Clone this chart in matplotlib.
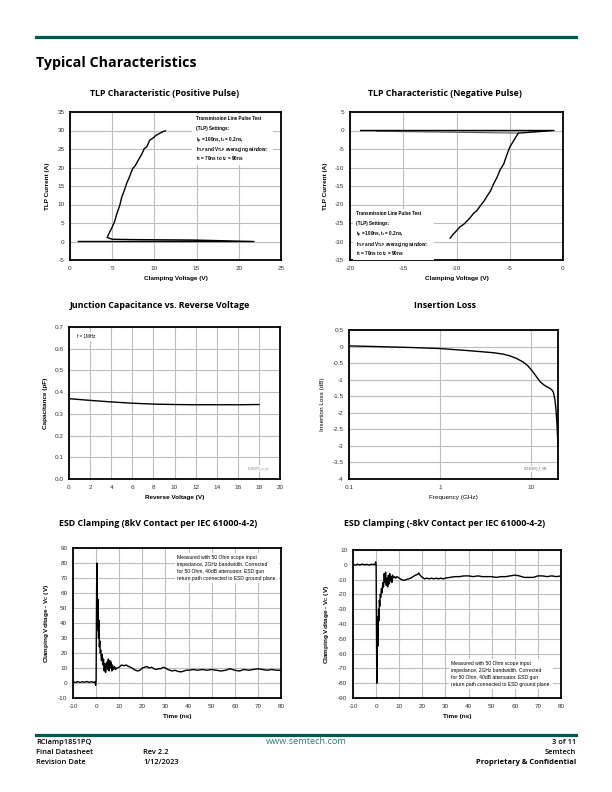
import matplotlib
matplotlib.use("Agg")
import matplotlib.pyplot as plt
from matplotlib.lines import Line2D
from matplotlib.patches import Rectangle

plt.rcParams['font.family'] = ['Liberation Sans', 'DejaVu Sans']
plt.rcParams['mathtext.default'] = 'regular'
plt.rcParams['axes.unicode_minus'] = False

TEAL = '#00594f'
GRID = '#bdbdbd'
HEAD_FONT = 'Open Sans'

# --- TLP positive pulse (clamping voltage V, current A)
tlp_pos_v = [1.0, 21.8, 14.5, 8.0, 5.0, 4.4, 4.7, 5.0, 5.3, 5.55, 5.9, 6.13, 6.4, 6.76, 7.0, 7.42, 7.7,
             8.0, 8.2, 8.5, 8.8, 9.1, 9.45, 9.8, 10.2, 10.6, 11.0, 11.3]
tlp_pos_i = [0.0, 0.0, 0.4, 0.5, 0.6, 1.1, 2.5, 3.9, 5.5, 7.5, 9.8, 12.0, 13.6, 16.0, 17.2, 19.7, 20.4,
             21.6, 22.4, 23.6, 25.1, 25.6, 27.4, 27.9, 28.7, 29.2, 29.7, 29.9]

# --- TLP negative pulse
tlp_neg_v = [-19.0, -0.85, -4.2, -4.6, -5.0, -5.3, -5.56, -5.9, -6.2, -6.5, -6.8, -7.1, -7.4, -7.8, -8.1,
             -8.4, -8.7, -9.0, -9.3, -9.7, -10.0, -10.3, -10.6]
tlp_neg_i = [0.0, 0.0, -0.7, -2.6, -4.5, -6.8, -9.0, -10.6, -12.7, -14.3, -16.3, -17.6, -19.0, -20.5, -21.7,
             -22.4, -23.5, -24.4, -25.3, -26.1, -27.1, -28.0, -29.1]
tlp_neg_snap_v = [-17.5, -4.2]
tlp_neg_snap_i = [-0.2, -0.7]

# --- Junction capacitance
cap_vr = [0, 2, 4, 6, 8, 10, 12, 14, 16, 18]
cap_pf = [0.370, 0.362, 0.355, 0.349, 0.345, 0.343, 0.342, 0.342, 0.342, 0.343]

# --- Insertion loss
il_freq = [0.1, 0.2, 0.5, 1.0, 2.0, 3.0, 4.0, 5.0, 5.9, 7.0, 8.3, 9.3, 10.3, 11.5, 12.7, 14.0, 15.0,
           16.0, 17.0, 17.8, 18.5, 19.0, 19.4, 19.7, 20.0]
il_db = [0.02, 0.0, -0.03, -0.06, -0.12, -0.16, -0.19, -0.23, -0.28, -0.36, -0.47, -0.58, -0.72, -0.90,
         -1.06, -1.16, -1.21, -1.25, -1.30, -1.38, -1.60, -1.90, -2.25, -2.60, -3.00]

# --- ESD clamping, +8kV
esd_pos_t = [-10, -9, -8, -7, -6, -5, -4, -3, -2, -1, -0.5, -0.2, 0.0, 0.15, 0.3, 0.45, 0.6, 0.75, 0.9,
             1.05, 1.2, 1.4, 1.6, 1.8, 2.0, 2.3, 2.6, 2.9, 3.2, 3.5, 3.8, 4.1, 4.4, 4.7, 5.0, 5.3, 5.6,
             5.9, 6.2, 6.5, 6.8, 7.1, 7.5, 8, 8.5, 9, 10, 11, 12, 13, 14, 15, 16, 17, 18, 19, 20, 21,
             22, 23, 24, 25, 26, 27, 28, 29, 30, 31, 32, 33, 34, 35, 36, 37, 38, 39, 40, 42, 44, 46,
             48, 50, 52, 54, 56, 58, 60, 62, 64, 66, 68, 70, 72, 74, 76, 78, 80]
esd_pos_v = [0.8, 0.3, 0.9, 0.4, 0.8, 0.5, 1.0, 0.4, 0.9, 0.3, 1.0, -1.5, 2.0, 45, 80, 60, 35, 56, 40,
             30, 42, 24, 28, 20, 22, 15, 19, 12, 16, 8, 13, 7, 11, 14, 9, 16, 8, 15, 10, 14, 8, 12, 9,
             11, 9, 10, 10.5, 12, 11.5, 12, 11, 10.5, 9.5, 8.5, 8, 8.5, 10, 10.5, 11, 10, 10.5, 9.5, 9,
             9.5, 9.5, 10.5, 10, 9, 8.5, 8, 8.5, 8, 7.5, 7.5, 8, 8.5, 8.5, 9, 8.5, 9, 8.5, 9, 8.5, 8,
             8.5, 9.5, 8.5, 8, 9, 8.5, 9, 9.5, 9, 8.5, 9, 8.5, 8.5]

# --- ESD clamping, -8kV
esd_neg_t = [-10, -9, -8, -7, -6, -5, -4, -3, -2, -1, -0.5, -0.2, 0.0, 0.15, 0.3, 0.45, 0.6, 0.75, 0.9,
             1.05, 1.2, 1.4, 1.6, 1.8, 2.0, 2.3, 2.6, 2.9, 3.2, 3.5, 3.8, 4.1, 4.4, 4.7, 5.0, 5.3, 5.6,
             5.9, 6.2, 6.5, 6.8, 7.1, 7.5, 8, 8.5, 9, 10, 11, 12, 13, 14, 15, 16, 17, 18, 18.5, 19, 20,
             21, 22, 23, 24, 25, 26, 27, 28, 29, 30, 32, 34, 36, 38, 40, 42, 44, 46, 48, 50, 52, 54, 56,
             58, 60, 62, 64, 66, 68, 70, 72, 74, 76, 78, 80]
esd_neg_v = [0.3, -0.2, 0.4, -0.1, 0.5, 0.0, 0.3, -0.2, 0.4, 0.1, 0.3, 2.0, 0.0, -40, -80, -60, -35, -55,
             -40, -30, -38, -24, -28, -20, -22, -16, -19, -12, -15, -6, -12, -5, -14, -9, -15, -7, -13,
             -6, -11, -8, -12, -7, -9, -8, -9, -8, -9, -10, -10.5, -10, -9.5, -9, -8, -7, -6.5, -5.5,
             -7, -8.5, -9.5, -9, -9.5, -9, -9.5, -9, -9.5, -9, -9.5, -9, -8.5, -8, -8, -7.5, -7.5, -8,
             -7.5, -8, -8, -8, -8.5, -8, -8, -7.5, -7, -7.5, -8.5, -8.5, -8.5, -7.5, -7.5, -8, -7.5, -8,
             -7.5]

TLP_NOTE = ["Transmission Line Pulse Test", "(TLP) Settings:", "t$_p$ = 100ns, t$_r$ = 0.2ns,",
            "I$_{TLP}$ and V$_{TLP}$ averaging window:", "t$_1$ = 70ns to t$_2$ = 90ns"]
ESD_NOTE = ("Measured with 50 Ohm scope input\nimpedance, 2GHz bandwidth. Corrected\n"
            "for 50 Ohm, 40dB attenuator. ESD gun\nreturn path connected to ESD ground plane.")


def style_axes(ax, xlabel, ylabel):
    ax.grid(True, color=GRID, linewidth=0.8)
    ax.set_axisbelow(True)
    for s in ax.spines.values():
        s.set_linewidth(1.3)
    ax.tick_params(length=0, labelsize=4.6, pad=4, labelcolor='#333333')
    ax.set_xlabel(xlabel, fontsize=4.6, fontweight='bold', labelpad=4)
    ax.set_ylabel(ylabel, fontsize=4.6, fontweight='bold', labelpad=5)


def tlp_note(ax, x, y):
    # white box + one text per line so the subscripts don't push lines apart
    step = 0.064
    ax.add_patch(Rectangle((x - 0.015, y - step * 5 - 0.01), 0.38, step * 5 + 0.025,
                           transform=ax.transAxes, facecolor='white', edgecolor='none', zorder=3))
    for k, line in enumerate(TLP_NOTE):
        ax.text(x, y - k * step, line, transform=ax.transAxes, fontsize=3.3, fontweight='bold',
                va='top', zorder=4)


def head(fig, x, y, text):
    fig.text(x, y, text, ha='center', va='center', fontsize=6.4, fontweight='bold', family=HEAD_FONT)


fig = plt.figure(figsize=(6.12, 7.92), dpi=100)

# page header / footer
fig.add_artist(Line2D([36 / 612, 576 / 612], [1 - 37 / 792] * 2, color=TEAL, lw=2.3))
fig.text(36 / 612, 1 - 63 / 792, 'Typical Characteristics', fontsize=10.3, fontweight='bold',
         family=HEAD_FONT, va='center')
fig.add_artist(Line2D([36 / 612, 576 / 612], [1 - 735 / 792] * 2, color=TEAL, lw=2.3))
foot = dict(fontsize=5.4, family=HEAD_FONT, va='center')
fig.text(36 / 612, 1 - 742 / 792, 'RClamp1851PQ', fontweight='semibold', **foot)
fig.text(36 / 612, 1 - 752 / 792, 'Final Datasheet', fontweight='semibold', **foot)
fig.text(36 / 612, 1 - 762 / 792, 'Revision Date', fontweight='semibold', **foot)
fig.text(143 / 612, 1 - 752 / 792, 'Rev 2.2', fontweight='semibold', **foot)
fig.text(143 / 612, 1 - 762 / 792, '1/12/2023', fontweight='semibold', **foot)
fig.text(306 / 612, 1 - 742 / 792, 'www.semtech.com', ha='center', color='#2b7d72',
         fontsize=6.6, family=HEAD_FONT, va='center')
fig.text(576 / 612, 1 - 742 / 792, '3 of 11', ha='right', fontweight='semibold', **foot)
fig.text(576 / 612, 1 - 752 / 792, 'Semtech', ha='right', fontweight='semibold', **foot)
fig.text(576 / 612, 1 - 762 / 792, 'Proprietary & Confidential', ha='right', fontweight='bold', **foot)

# TLP positive
ax1 = fig.add_axes([70 / 612, 1 - 260 / 792, 211 / 612, 148 / 792])
ax1.plot(tlp_pos_v, tlp_pos_i, color='black', lw=1.0)
ax1.set_xlim(0, 25)
ax1.set_ylim(-5, 35)
ax1.set_xticks(range(0, 26, 5))
ax1.set_yticks(range(-5, 36, 5))
style_axes(ax1, 'Clamping Voltage (V)', 'TLP Current (A)')
tlp_note(ax1, 0.595, 0.97)
head(fig, 165 / 612, 1 - 93 / 792, 'TLP Characteristic (Positive Pulse)')

# TLP negative
ax2 = fig.add_axes([350 / 612, 1 - 260 / 792, 213 / 612, 148 / 792])
ax2.plot(tlp_neg_snap_v, tlp_neg_snap_i, color='#555555', lw=0.8)
ax2.plot(tlp_neg_v, tlp_neg_i, color='black', lw=1.0)
ax2.set_xlim(-20, 0)
ax2.set_ylim(-35, 5)
ax2.set_xticks(range(-20, 1, 5))
ax2.set_yticks(range(-35, 6, 5))
style_axes(ax2, 'Clamping Voltage (V)', 'TLP Current (A)')
tlp_note(ax2, 0.03, 0.33)
head(fig, 445 / 612, 1 - 93 / 792, 'TLP Characteristic (Negative Pulse)')

# Junction capacitance
ax3 = fig.add_axes([69 / 612, 1 - 479 / 792, 211 / 612, 152 / 792])
ax3.plot(cap_vr, cap_pf, color='black', lw=1.0)
ax3.set_xlim(0, 20)
ax3.set_ylim(0, 0.7)
ax3.set_xticks(range(0, 21, 2))
ax3.set_yticks([0.0, 0.1, 0.2, 0.3, 0.4, 0.5, 0.6, 0.7])
ax3.set_yticklabels(['0.0', '0.1', '0.2', '0.3', '0.4', '0.5', '0.6', '0.7'])
style_axes(ax3, 'Reverse Voltage (V)', 'Capacitance (pF)')
ax3.text(0.04, 0.955, 'f = 1MHz', transform=ax3.transAxes, fontsize=3.3, va='top',
         bbox=dict(facecolor='white', edgecolor='none', pad=1.5))
ax3.text(0.95, 0.06, 'RC1851PQ_cv_cur', transform=ax3.transAxes, fontsize=1.8, ha='right',
         color='#777777', bbox=dict(facecolor='white', edgecolor='none', pad=1))
head(fig, 160 / 612, 1 - 305 / 792, 'Junction Capacitance vs. Reverse Voltage')

# Insertion loss
ax4 = fig.add_axes([349 / 612, 1 - 479 / 792, 209 / 612, 149 / 792])
ax4.plot(il_freq, il_db, color='black', lw=1.0)
ax4.set_xscale('log')
ax4.set_xlim(0.1, 20)
ax4.set_ylim(-4, 0.5)
ax4.set_xticks([0.1, 1, 10])
ax4.set_xticklabels(['0.1', '1', '10'])
ax4.minorticks_off()
ax4.set_yticks([0.5, 0, -0.5, -1, -1.5, -2, -2.5, -3, -3.5, -4])
ax4.set_yticklabels(['0.5', '0', '-0.5', '-1', '-1.5', '-2', '-2.5', '-3', '-3.5', '-4'])
style_axes(ax4, 'Frequency (GHz)', 'Insertion Loss (dB)')
ax4.xaxis.label.set_fontweight('normal')
ax4.yaxis.label.set_fontweight('normal')
ax4.text(0.95, 0.06, 'RC1851PQ_F_SM', transform=ax4.transAxes, fontsize=2.0, ha='right',
         color='#555555', bbox=dict(facecolor='white', edgecolor='none', pad=1))
head(fig, 445 / 612, 1 - 305 / 792, 'Insertion Loss')

# ESD +8kV
ax5 = fig.add_axes([73 / 612, 1 - 698 / 792, 208 / 612, 150 / 792])
ax5.plot(esd_pos_t, esd_pos_v, color='black', lw=1.0)
ax5.set_xlim(-10, 80)
ax5.set_ylim(-10, 90)
ax5.set_xticks(range(-10, 81, 10))
ax5.set_yticks(range(-10, 91, 10))
style_axes(ax5, 'Time (ns)', 'Clamping Voltage - V$_C$ (V)')
ax5.text(0.5, 0.955, ESD_NOTE, transform=ax5.transAxes, fontsize=3.6, va='top', linespacing=1.5,
         bbox=dict(facecolor='white', edgecolor='none', pad=1.5))
head(fig, 158 / 612, 1 - 524 / 792, 'ESD Clamping (8kV Contact per IEC 61000-4-2)')

# ESD -8kV
ax6 = fig.add_axes([353 / 612, 1 - 698 / 792, 208 / 612, 148 / 792])
ax6.plot(esd_neg_t, esd_neg_v, color='black', lw=1.0)
ax6.set_xlim(-10, 80)
ax6.set_ylim(-90, 10)
ax6.set_xticks(range(-10, 81, 10))
ax6.set_yticks(range(-90, 11, 10))
style_axes(ax6, 'Time (ns)', 'Clamping Voltage - V$_C$ (V)')
ax6.text(0.47, 0.25, ESD_NOTE, transform=ax6.transAxes, fontsize=3.6, va='top', linespacing=1.5,
         bbox=dict(facecolor='white', edgecolor='none', pad=1.5))
head(fig, 445 / 612, 1 - 524 / 792, 'ESD Clamping (-8kV Contact per IEC 61000-4-2)')

fig.savefig('out.png', dpi=100)
